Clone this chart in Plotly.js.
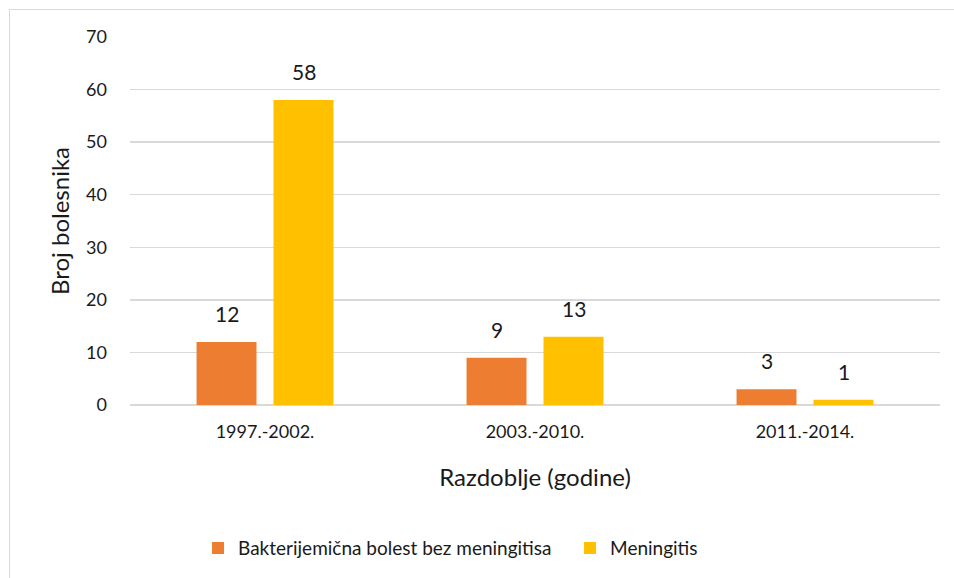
<!DOCTYPE html>
<html><head><meta charset="utf-8">
<script src="https://cdn.plot.ly/plotly-3.0.1.min.js"></script>
<style>
html,body{margin:0;padding:0;background:#fff;}
#wrap{position:relative;width:954px;height:578px;overflow:hidden;}
#frame{position:absolute;left:9px;top:9px;width:2000px;height:2000px;border-left:1px solid #d9d9d9;border-top:1px solid #d9d9d9;pointer-events:none;}
#chart{position:absolute;left:0;top:0;width:954px;height:578px;}
</style></head>
<body><div id="wrap"><div id="chart"></div><div id="frame"></div></div>
<script>
const categories = ["1997.-2002.", "2003.-2010.", "2011.-2014."];
const seriesNames = ["Bakterijemična bolest bez meningitisa", "Meningitis"];
const bacteremia = [12, 9, 3];
const meningitis = [58, 13, 1];
const yTicks = [0, 10, 20, 30, 40, 50, 60, 70];

const font = "Lato, 'Open Sans', sans-serif";
const txtColor = "#1a1a1a";
const traces = [
  {type:"bar", name:seriesNames[0], x:categories, y:bacteremia, marker:{color:"#ed7d31"}, hoverinfo:"none"},
  {type:"bar", name:seriesNames[1], x:categories, y:meningitis, marker:{color:"#ffc000"}, hoverinfo:"none"}
];
const labelSeries = [[bacteremia, -38.5], [meningitis, 38.5]];
const annotations = [];
labelSeries.forEach(([vals, dx]) => {
  vals.forEach((v, i) => {
    annotations.push({x:categories[i], y:v, xref:"x", yref:"y", text:String(v), showarrow:false,
      xanchor:"center", yanchor:"bottom", xshift:dx, yshift:14,
      font:{size:21, family:font, color:txtColor}});
  });
});
const layout = {
  width:954, height:578,
  margin:{l:130, r:14, t:37, b:173, autoexpand:false},
  paper_bgcolor:"rgba(0,0,0,0)", plot_bgcolor:"#fff",
  font:{family:font, color:txtColor},
  bargap:0.43, bargroupgap:0.221, barmode:"group",
  showlegend:true,
  annotations:annotations,
  legend:{orientation:"h", x:0.084, xanchor:"left", y:-0.389, yanchor:"middle",
          font:{size:19, family:font, color:txtColor}, itemwidth:30, entrywidth:327, traceorder:"normal"},
  xaxis:{type:"category", tickfont:{size:18, family:font, color:txtColor}, showgrid:false, showline:false, zeroline:false,
         ticks:"", ticklabelstandoff:14,
         title:{text:"Razdoblje (godine)", font:{size:24, family:font, color:txtColor}, standoff:28}},
  yaxis:{range:[0,70], tickvals:yTicks, ticktext:yTicks.map(String), tickfont:{size:18, family:font, color:txtColor},
         showgrid:true, gridcolor:"#d9d9d9", gridwidth:1.3, zeroline:true, zerolinecolor:"#d9d9d9", zerolinewidth:1.3,
         showline:false, ticks:"", ticklabelstandoff:22,
         title:{text:"Broj bolesnika", font:{size:24, family:font, color:txtColor}, standoff:9}}
};
Plotly.newPlot("chart", traces, layout, {staticPlot:true, displayModeBar:false});
</script></body></html>
